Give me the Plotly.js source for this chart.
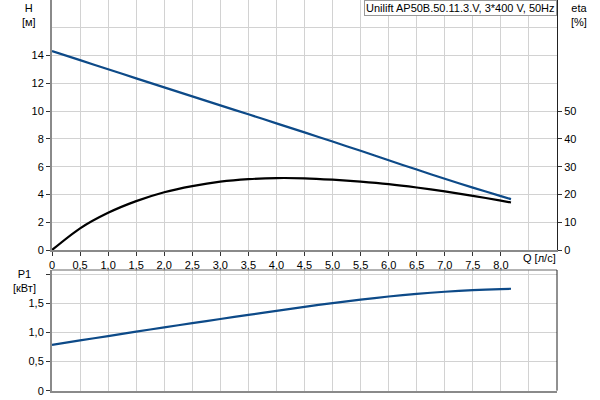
<!DOCTYPE html>
<html>
<head>
<meta charset="utf-8">
<script src="https://cdn.plot.ly/plotly-3.0.1.min.js"></script>
<style>body{margin:0;padding:0;background:#fff}#chart{width:600px;height:400px}</style>
</head>
<body>
<div id="chart"></div>
<script>
// Flow Q [l/s]
const Q = [0, 0.5, 1.0, 1.5, 2.0, 2.5, 3.0, 3.5, 4.0, 4.5, 5.0, 5.5, 6.0, 6.5, 7.0, 7.5, 8.0, 8.18];
// Head H [m]
const H = [14.32, 13.67, 13.01, 12.36, 11.71, 11.06, 10.41, 9.77, 9.12, 8.47, 7.81, 7.14, 6.46, 5.79, 5.13, 4.49, 3.88, 3.66];
// Efficiency eta [%]
const ETA = [0, 7.8, 13.4, 17.6, 20.8, 23.0, 24.6, 25.5, 25.9, 25.8, 25.3, 24.6, 23.7, 22.5, 21.1, 19.5, 17.8, 17.1];
// Power P1 [kW]
const P1 = [0.785, 0.862, 0.937, 1.012, 1.086, 1.158, 1.23, 1.30, 1.37, 1.438, 1.503, 1.562, 1.615, 1.66, 1.697, 1.725, 1.743, 1.748];

// Tick labels
const qTickVals = [0, 0.5, 1, 1.5, 2, 2.5, 3, 3.5, 4, 4.5, 5, 5.5, 6, 6.5, 7, 7.5, 8];
const qTickText = ["0", "0,5", "1,0", "1,5", "2,0", "2,5", "3,0", "3,5", "4,0", "4,5", "5,0", "5,5", "6,0", "6,5", "7,0", "7,5", "8,0"];
const hTickVals = [0, 2, 4, 6, 8, 10, 12, 14];
const hTickText = ["0", "2", "4", "6", "8", "10", "12", "14"];
const etaTickVals = [0, 10, 20, 30, 40, 50];
const etaTickText = ["0", "10", "20", "30", "40", "50"];
const pTickVals = [0, 0.5, 1.0, 1.5, 2.0];
const pTickText = ["0", "0,5", "1,0", "1,5", ""];
const title = "Unilift AP50B.50.11.3.V, 3*400 V, 50Hz";

const BLUE = "#0d4a88";
const GRID = "#d2d2d2";
const AXG = "#8a8a8a";
const FONT = {family: "Liberation Sans, Arial, sans-serif", size: 11, color: "#000"};

const traces = [
  {x: Q, y: H, xaxis: "x", yaxis: "y", mode: "lines", line: {color: BLUE, width: 2.2, shape: "spline", smoothing: 0.8}, hoverinfo: "skip"},
  {x: Q, y: ETA, xaxis: "x", yaxis: "y2", mode: "lines", line: {color: "#000", width: 2.2, shape: "spline", smoothing: 0.8}, hoverinfo: "skip"},
  {x: Q, y: P1, xaxis: "x2", yaxis: "y3", mode: "lines", line: {color: BLUE, width: 2.2, shape: "spline", smoothing: 0.8}, hoverinfo: "skip"}
];

const xCommon = {
  range: [0, 9], showgrid: true, gridcolor: GRID, gridwidth: 1, zeroline: false,
  tickvals: qTickVals, ticktext: qTickText, ticks: "outside", ticklen: 4, tickcolor: "#333",
  minor: {tickvals: [8.5], showgrid: true, gridcolor: GRID, gridwidth: 1, ticks: ""},
  showline: true, linecolor: AXG, linewidth: 2, tickfont: FONT, fixedrange: true
};

const layout = {
  width: 600, height: 400,
  margin: {l: 52, r: 43, t: 0, b: 0, pad: 0},
  paper_bgcolor: "#fff", plot_bgcolor: "#fff",
  showlegend: false,
  font: FONT,
  xaxis: Object.assign({}, xCommon, {domain: [0, 1], anchor: "y"}),
  xaxis2: Object.assign({}, xCommon, {domain: [0, 1], anchor: "y3", showticklabels: false, ticks: ""}),
  yaxis: {
    domain: [0.375, 1], range: [0, 18], anchor: "x",
    tickvals: hTickVals, ticktext: hTickText, ticks: "outside", ticklen: 4, tickcolor: "#333",
    showgrid: true, gridcolor: GRID, gridwidth: 1, zeroline: false,
    minor: {tickvals: [16, 18], showgrid: true, gridcolor: GRID, gridwidth: 1, ticks: ""},
    showline: true, linecolor: AXG, linewidth: 2, tickfont: FONT, fixedrange: true
  },
  yaxis2: {
    overlaying: "y", side: "right", anchor: "x", range: [0, 90],
    tickvals: etaTickVals, ticktext: etaTickText, ticks: "outside", ticklen: 4, tickcolor: "#333",
    showgrid: false, zeroline: false, showline: true, linecolor: "#222", linewidth: 1,
    tickfont: FONT, fixedrange: true
  },
  yaxis3: {
    domain: [0.0233, 0.325], range: [0, 2.07], anchor: "x2",
    tickvals: pTickVals, ticktext: pTickText, ticks: "outside", ticklen: 4, tickcolor: "#333",
    showgrid: true, gridcolor: GRID, gridwidth: 1, zeroline: false,
    showline: true, linecolor: AXG, linewidth: 2, tickfont: FONT, fixedrange: true
  },
  shapes: [
    {type: "line", xref: "x2 domain", yref: "y3 domain", x0: 0, x1: 1, y0: 1, y1: 1, line: {color: "#666", width: 1}},
    {type: "line", xref: "x2 domain", yref: "y3 domain", x0: 1, x1: 1, y0: 0, y1: 1, line: {color: "#222", width: 1}}
  ],
  annotations: [
    {text: title, xref: "paper", yref: "paper", x: 1, y: 1, xanchor: "right", yanchor: "top",
     showarrow: false, bgcolor: "#fff", bordercolor: "#999", borderwidth: 1, borderpad: 1, font: FONT},
    {text: "H<br>[м]", xref: "paper", yref: "paper", x: -0.045, y: 1, xanchor: "center", yanchor: "top", showarrow: false, font: FONT, align: "center"},
    {text: "eta<br>[%]", xref: "paper", yref: "paper", x: 1.043, y: 1, xanchor: "center", yanchor: "top", showarrow: false, font: FONT, align: "center"},
    {text: "Q [л/с]", xref: "paper", yref: "paper", x: 0.965, y: 0.355, xanchor: "center", yanchor: "middle", showarrow: false, font: FONT},
    {text: "P1<br>[кВт]", xref: "paper", yref: "paper", x: -0.055, y: 0.335, xanchor: "center", yanchor: "top", showarrow: false, font: FONT, align: "center"}
  ]
};

Plotly.newPlot("chart", traces, layout, {displayModeBar: false, staticPlot: true});
</script>
</body>
</html>
